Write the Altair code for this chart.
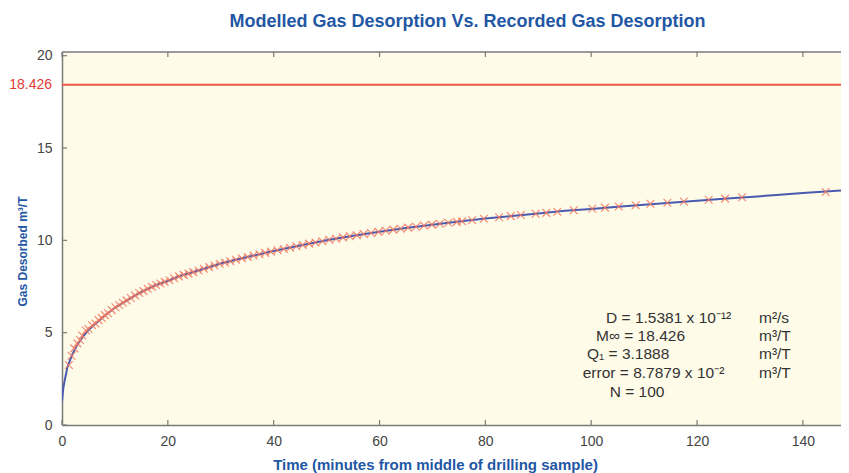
import altair as alt
import pandas as pd

# ---- data ----
curve_t = [0, 0.25, 0.5, 1, 1.5, 2, 3, 4, 5, 6, 8, 10, 12, 14, 16, 18, 20, 22, 25,
           30, 35, 40, 45, 50, 55, 60, 65, 70, 75, 80, 85, 90, 95, 100, 105, 110,
           115, 120, 125, 130, 135, 140, 145, 150]
curve_y = [1.3, 2.0, 2.4, 3.1, 3.5, 3.85, 4.4, 4.8, 5.15, 5.4, 5.9, 6.35, 6.7, 7.05,
           7.35, 7.6, 7.8, 8.05, 8.3, 8.75, 9.1, 9.42, 9.72, 10.0, 10.25, 10.47,
           10.67, 10.85, 11.02, 11.18, 11.32, 11.45, 11.6, 11.7, 11.82, 11.93,
           12.04, 12.15, 12.25, 12.35, 12.45, 12.56, 12.66, 12.76]

obs_t = [1.3, 1.8, 2.3, 2.9, 3.4, 3.8, 4.5, 5.0, 5.7, 6.3, 6.9, 7.5, 8.1, 8.7, 9.4,
         10.1, 10.8, 11.5, 12.2, 13.0, 13.8, 14.6, 15.4, 16.2, 17.0, 17.8, 18.6,
         19.4, 20.3, 21.2, 22.1, 23.0, 23.9, 24.8, 25.8, 26.8, 27.8, 28.8, 29.8,
         30.8, 31.8, 32.9, 34.0, 35.1, 36.2, 37.3, 38.4, 39.5, 40.7, 41.9, 43.1,
         44.3, 45.5, 46.7, 47.9, 49.2, 50.5, 51.8, 53.1, 54.4, 55.7, 57.0, 58.4,
         59.8, 61.2, 62.6, 64.0, 65.4, 66.9, 68.4, 69.9, 71.4, 73.0, 74.6, 75.6,
         77.5, 79.7, 82.6, 84.8, 86.7, 89.5, 91.5, 93.6, 96.7, 100.2, 102.6, 105.2,
         108.4, 111.2, 114.4, 117.5, 122.2, 125.3, 128.5, 144.3]
obs_y = [3.25, 3.75, 4.15, 4.42, 4.6, 4.85, 5.12, 5.2, 5.4, 5.5, 5.68, 5.8, 5.95,
         6.05, 6.22, 6.38, 6.5, 6.62, 6.75, 6.88, 7.02, 7.15, 7.25, 7.38, 7.48,
         7.58, 7.66, 7.75, 7.84, 7.95, 8.05, 8.13, 8.2, 8.28, 8.37, 8.46, 8.55,
         8.64, 8.73, 8.8, 8.87, 8.95, 9.03, 9.1, 9.18, 9.25, 9.32, 9.39, 9.46,
         9.53, 9.6, 9.68, 9.75, 9.82, 9.88, 9.95, 10.03, 10.09, 10.16, 10.22,
         10.28, 10.34, 10.4, 10.46, 10.52, 10.58, 10.63, 10.69, 10.74, 10.8,
         10.85, 10.9, 10.95, 11.0, 11.03, 11.09, 11.17, 11.25, 11.31, 11.37,
         11.44, 11.49, 11.55, 11.63, 11.71, 11.77, 11.83, 11.9, 11.98, 12.04,
         12.1, 12.2, 12.26, 12.33, 12.62]

m_inf = 18.426
m_inf_label = "18.426"

x_ticks = [0, 20, 40, 60, 80, 100, 120, 140]
y_ticks = [0, 5, 10, 15, 20]

ann_text = ["D = 1.5381 x 10\u207b\u00b9\u00b2", "M\u221e = 18.426", "Q\u2081 = 3.1888",
            "error = 8.7879 x 10\u207b\u00b2", "N = 100"]
ann_units = ["m\u00b2/s", "m\u00b3/T", "m\u00b3/T", "m\u00b3/T", ""]
ann_x = [102.8, 100.9, 99.2, 98.4, 103.5]
ann_y = [5.8, 4.82, 3.85, 2.82, 1.8]
units_x = [131.7, 131.7, 131.7, 131.7, 131.7]

# ---- styling ----
W, H = 779, 373
XMAX, YMAX = 147.2, 20.2
FONT = "Liberation Sans"
BLUE_T = "#1f57a4"
GRAY = "#7a7a7a"

xs = alt.Scale(domain=[0, XMAX], nice=False, zero=False)
ys = alt.Scale(domain=[0, YMAX], nice=False, zero=False)

x_axis = alt.Axis(
    values=x_ticks, format="d", ticks=False, grid=False, labelPadding=9,
    labelFlush=False,
    labelFontSize=14, labelColor="#444444", labelFont=FONT,
    domainColor=GRAY, domainWidth=1.5,
    title="Time (minutes from middle of drilling sample)",
    titleFont=FONT, titleFontSize=15, titleFontWeight="bold", titleColor=BLUE_T,
    titleX=373, titleY=39, titleAlign="center", titleBaseline="middle",
)
y_axis = alt.Axis(
    values=y_ticks, format="d", ticks=False, grid=False, labelPadding=10,
    labelFlush=False,
    labelFontSize=14, labelFont=FONT, labelColor="#444444",
    domainColor=GRAY, domainWidth=1.5,
    title="Gas Desorbed m\u00b3/T",
    titleFont=FONT, titleFontSize=12, titleFontWeight="bold", titleColor=BLUE_T,
    titleX=-40, titleY=199, titleAngle=270, titleAlign="center", titleBaseline="middle",
)

X = lambda f="t": alt.X(f"{f}:Q", scale=xs, axis=x_axis)
Y = lambda f="y": alt.Y(f"{f}:Q", scale=ys, axis=y_axis)

curve_df = pd.DataFrame({"t": curve_t, "y": curve_y})
obs_df = pd.DataFrame({"t": obs_t, "y": obs_y})
ann_df = pd.DataFrame({"t": ann_x, "y": ann_y, "label": ann_text})
units_df = pd.DataFrame({"t": units_x, "y": ann_y, "label": ann_units})
xt_df = pd.DataFrame({"t": x_ticks})
yt_df = pd.DataFrame({"y": y_ticks})
asym_df = pd.DataFrame({"y": [m_inf], "label": [m_inf_label]})
top_df = pd.DataFrame({"y": [YMAX]})

curve = alt.Chart(curve_df).mark_line(color="#4a5aae", strokeWidth=2, clip=True).encode(
    x=X(), y=Y(),
)

obs = alt.Chart(obs_df).mark_point(
    shape="M-1,-1L1,1M-1,1L1,-1", filled=False, color="#f07a62",
    strokeWidth=1.2, size=60, opacity=0.85,
).encode(x=X(), y=Y())

asym = alt.Chart(asym_df).mark_rule(color="#ee5545", strokeWidth=2).encode(y=Y())
asym_label = alt.Chart(asym_df).mark_text(
    align="right", baseline="middle", font=FONT, fontSize=14, color="#e23a35",
).encode(y=Y(), x=alt.value(-10), text="label:N")

top_border = alt.Chart(top_df).mark_rule(color=GRAY, strokeWidth=1.5).encode(y=Y())

xt_bottom = alt.Chart(xt_df).mark_rule(color=GRAY, strokeWidth=1.2).encode(
    x=X(), y=alt.value(H), y2=alt.value(H - 5),
)
xt_top = alt.Chart(xt_df).mark_rule(color=GRAY, strokeWidth=1.2).encode(
    x=X(), y=alt.value(0), y2=alt.value(5),
)
yt_left = alt.Chart(yt_df).mark_rule(color=GRAY, strokeWidth=1.2).encode(
    y=Y(), x=alt.value(0), x2=alt.value(5),
)

ann = alt.Chart(ann_df).mark_text(
    align="left", baseline="middle", font=FONT, fontSize=15.5, color="#333333",
).encode(x=X(), y=Y(), text="label:N")
units = alt.Chart(units_df).mark_text(
    align="left", baseline="middle", font=FONT, fontSize=15.5, color="#333333",
).encode(x=X(), y=Y(), text="label:N")

chart = alt.layer(
    asym, curve, obs, top_border, xt_bottom, xt_top, yt_left, ann, units, asym_label
).properties(
    width=W, height=H,
    padding={"left": 54, "top": 44, "right": 0, "bottom": 48},
    autosize=alt.AutoSizeParams(type="none"),
    background="white",
    title=alt.TitleParams(
        "Modelled Gas Desorption Vs. Recorded Gas Desorption",
        font=FONT, fontSize=18, fontWeight="bold", color=BLUE_T,
        anchor="middle", dx=16, offset=18,
    ),
).configure_view(
    fill="#fffbe9", stroke=None,
)

chart.save("out.html", embed_options={"renderer": "svg", "actions": False})
